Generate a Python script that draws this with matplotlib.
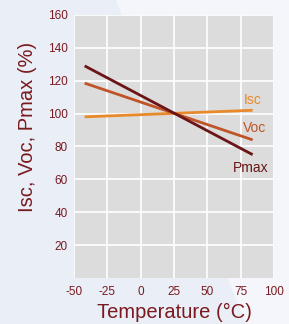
import matplotlib
matplotlib.use("Agg")
import matplotlib.pyplot as plt
from matplotlib.patches import Polygon

plt.rcParams['font.family'] = ['Liberation Sans', 'DejaVu Sans']
plt.rcParams['axes.unicode_minus'] = False

temps = [-42, 84]
isc = [98, 102]
voc = [118.5, 84]
pmax = [129, 75]
xticks = [-50, -25, 0, 25, 50, 75, 100]
yticks = [20, 40, 60, 80, 100, 120, 140, 160]

text_c = '#7a1a1f'
fig = plt.figure(figsize=(2.89, 3.24), dpi=100, facecolor='#e9eef7')
fig.patches.append(Polygon([(0.40, 1.0), (1.0, 1.0), (1.0, 0.0), (0.85, 0.0)], closed=True,
                           transform=fig.transFigure, facecolor='#f4f6fb', edgecolor='none', zorder=-5))
ax = fig.add_axes([0.256, 0.142, 0.692, 0.812])
ax.set_zorder(2)
ax.set_facecolor('#dcdcdc')
ax.plot(temps, isc, color='#e8892a', lw=2, solid_capstyle='butt', zorder=3)
ax.plot(temps, voc, color='#c05428', lw=2, solid_capstyle='butt', zorder=3)
ax.plot(temps, pmax, color='#6b1518', lw=2, solid_capstyle='butt', zorder=3)

ax.text(77, 108.5, 'Isc', color='#e8892a', fontsize=10, va='center', ha='left')
ax.text(77, 91, 'Voc', color='#c05428', fontsize=10, va='center', ha='left')
ax.text(69, 67, 'Pmax', color='#6b1518', fontsize=10, va='center', ha='left')

ax.set_xlim(-50, 100)
ax.set_ylim(0, 160)
ax.set_xticks(xticks)
ax.set_yticks(yticks)
ax.grid(True, color='white', lw=1.2)
ax.set_axisbelow(True)
for s in ax.spines.values():
    s.set_visible(False)
ax.tick_params(axis='y', length=0, labelsize=8.5, colors=text_c, pad=4.5)
ax.tick_params(axis='x', length=0, labelsize=8.5, colors=text_c, pad=6)
ax.set_xlabel('Temperature (°C)', fontsize=14.5, color=text_c, labelpad=3)
ax.set_ylabel('Isc, Voc, Pmax (%)', fontsize=14.5, color=text_c)
ax.yaxis.set_label_coords(-0.185, 0.575)

fig.savefig('out.png', dpi=100, facecolor=fig.get_facecolor())
